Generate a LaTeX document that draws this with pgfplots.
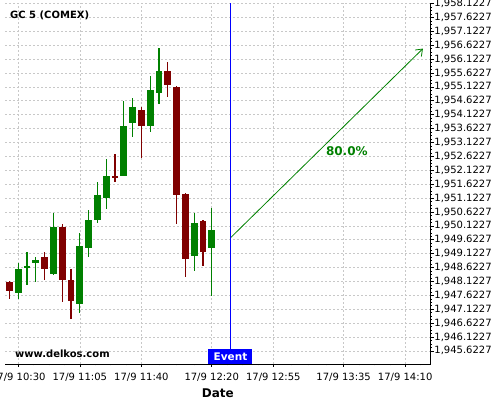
\documentclass[border=0pt]{standalone}
\usepackage{pgfplots}
\pgfplotsset{compat=1.18}
\usepackage{pgfplotstable}
\usepackage{fontspec}
\setmainfont{DejaVu Sans}
\usetikzlibrary{arrows.meta}
\definecolor{gcol}{RGB}{0,128,0}
\definecolor{rcol}{RGB}{128,0,0}
\definecolor{evblue}{RGB}{0,0,255}
\definecolor{gridc}{RGB}{200,200,200}
\pgfplotstableread{
t o h l c
0 1947.71 1948.80 1947.49 1948.59
5 1948.59 1949.19 1948.00 1948.69
10 1948.80 1948.99 1948.11 1948.91
20 1948.41 1950.59 1948.37 1950.10
35 1947.31 1949.86 1946.99 1949.41
40 1949.33 1950.70 1949.01 1950.33
45 1950.33 1951.71 1950.21 1951.23
50 1951.13 1952.52 1950.72 1951.92
60 1951.92 1954.60 1951.90 1953.72
65 1953.84 1954.72 1953.31 1954.41
75 1953.72 1955.52 1953.49 1955.01
80 1954.92 1956.51 1954.50 1955.70
100 1949.03 1950.61 1948.52 1950.21
110 1949.32 1950.77 1947.60 1949.99
}\greentab
\pgfplotstableread{
t o h l c
-5 1948.12 1948.15 1947.49 1947.80
15 1949.02 1949.19 1948.17 1948.59
25 1950.10 1950.18 1947.38 1948.19
30 1948.19 1948.58 1946.79 1947.42
55 1951.92 1952.71 1951.69 1951.83
70 1954.30 1954.41 1952.59 1953.73
85 1955.70 1956.01 1954.77 1955.21
90 1955.12 1955.18 1950.20 1951.23
95 1951.29 1951.32 1948.28 1948.93
105 1950.32 1950.35 1948.68 1949.21
}\redtab
\pgfplotstableread{
t v
120.66 1945.15
120.66 1958.14
}\eventtab
\begin{document}
\begin{tikzpicture}
\useasboundingbox (0,0) rectangle (500bp,400bp);
\begin{axis}[
  at={(5bp,36bp)}, anchor=south west,
  scale only axis, width=425.7bp, height=361bp,
  xmin=-7.56, xmax=234.5, ymin=1945.15, ymax=1958.14,
  axis x line*=bottom, axis y line*=right,
  axis line style={black, line width=0.8bp},
  font=\fontsize{10bp}{12bp}\selectfont,
  /pgf/number format/assume math mode=true,
  xtick={0,35,70,110,145,185,220},
  xticklabels={17/9 10:30,17/9 11:05,17/9 11:40,17/9 12:20,17/9 12:55,17/9 13:35,17/9 14:10},
  minor xtick={8.75,17.5,26.25,43.75,52.5,61.25,80,90,100,118.75,127.5,136.25,155,165,175,193.75,202.5,211.25,228.75},
  ytick={1945.6227,1946.1227,1946.6227,1947.1227,1947.6227,1948.1227,1948.6227,1949.1227,1949.6227,1950.1227,1950.6227,1951.1227,1951.6227,1952.1227,1952.6227,1953.1227,1953.6227,1954.1227,1954.6227,1955.1227,1955.6227,1956.1227,1956.6227,1957.1227,1957.6227,1958.1227},
  yticklabels={{1,945.6227},{1,946.1227},{1,946.6227},{1,947.1227},{1,947.6227},{1,948.1227},{1,948.6227},{1,949.1227},{1,949.6227},{1,950.1227},{1,950.6227},{1,951.1227},{1,951.6227},{1,952.1227},{1,952.6227},{1,953.1227},{1,953.6227},{1,954.1227},{1,954.6227},{1,955.1227},{1,955.6227},{1,956.1227},{1,956.6227},{1,957.1227},{1,957.6227},{1,958.1227}},
  minor y tick num=3,
  tick align=outside,
  major tick length=3bp, minor tick length=1.5bp,
  tick style={black, line width=0.5bp},
  yticklabel style={inner sep=0.5bp},
  xticklabel style={inner sep=1bp, yshift=-5bp},
  xmajorgrids, ymajorgrids,
  major grid style={gridc, dash pattern=on 2bp off 2bp, line width=0.5bp},
  xlabel={\bfseries\fontsize{12bp}{14bp}\selectfont Date},
  xlabel style={yshift=-2.5bp},
  clip=false,
]
% wicks
\addplot[only marks, mark=*, mark size=0pt, mark options={draw=none,fill=none}, forget plot,
  error bars/.cd, y dir=both, y explicit, error mark=none,
  error bar style={draw=gcol, line width=1.2bp}]
  table[x=t, y expr={(\thisrow{h}+\thisrow{l})/2}, y error expr={(\thisrow{h}-\thisrow{l})/2}] {\greentab};
\addplot[only marks, mark=*, mark size=0pt, mark options={draw=none,fill=none}, forget plot,
  error bars/.cd, y dir=both, y explicit, error mark=none,
  error bar style={draw=rcol, line width=1.2bp}]
  table[x=t, y expr={(\thisrow{h}+\thisrow{l})/2}, y error expr={(\thisrow{h}-\thisrow{l})/2}] {\redtab};
% bodies
\addplot[only marks, mark=*, mark size=0pt, mark options={draw=none,fill=none}, forget plot,
  error bars/.cd, y dir=both, y explicit, error mark=none,
  error bar style={draw=gcol, line width=6.8bp}]
  table[x=t, y expr={(\thisrow{o}+\thisrow{c})/2}, y error expr={abs(\thisrow{c}-\thisrow{o})/2}] {\greentab};
\addplot[only marks, mark=*, mark size=0pt, mark options={draw=none,fill=none}, forget plot,
  error bars/.cd, y dir=both, y explicit, error mark=none,
  error bar style={draw=rcol, line width=6.8bp}]
  table[x=t, y expr={(\thisrow{o}+\thisrow{c})/2}, y error expr={abs(\thisrow{c}-\thisrow{o})/2}] {\redtab};
% event line
\addplot[draw=evblue, mark=none, line width=1bp, line cap=butt] table[x=t, y=v] {\eventtab};
% forecast arrow
\addplot[draw=gcol, mark=none, line width=0.8bp, -{Straight Barb[length=6bp,width=9bp]}] coordinates {(120.9,1949.705) (230.1,1956.50)};
\node[gcol, font=\bfseries\fontsize{12bp}{14bp}\selectfont] at (axis cs:186.8,1952.81) {80.0\%};
\node[fill=evblue, text=white, font=\bfseries\fontsize{10.5bp}{12bp}\selectfont, minimum width=44bp, minimum height=15bp, inner sep=0pt, anchor=south] at (axis cs:120.66,1945.15) {Event};
\node[anchor=west, font=\bfseries\fontsize{10bp}{12bp}\selectfont, inner sep=0pt] at (rel axis cs:0.0117,0.967) {GC 5 (COMEX)};
\node[anchor=west, font=\bfseries\fontsize{10bp}{12bp}\selectfont, inner sep=0pt] at (rel axis cs:0.0235,0.028) {www.delkos.com};
\end{axis}
\end{tikzpicture}
\end{document}
